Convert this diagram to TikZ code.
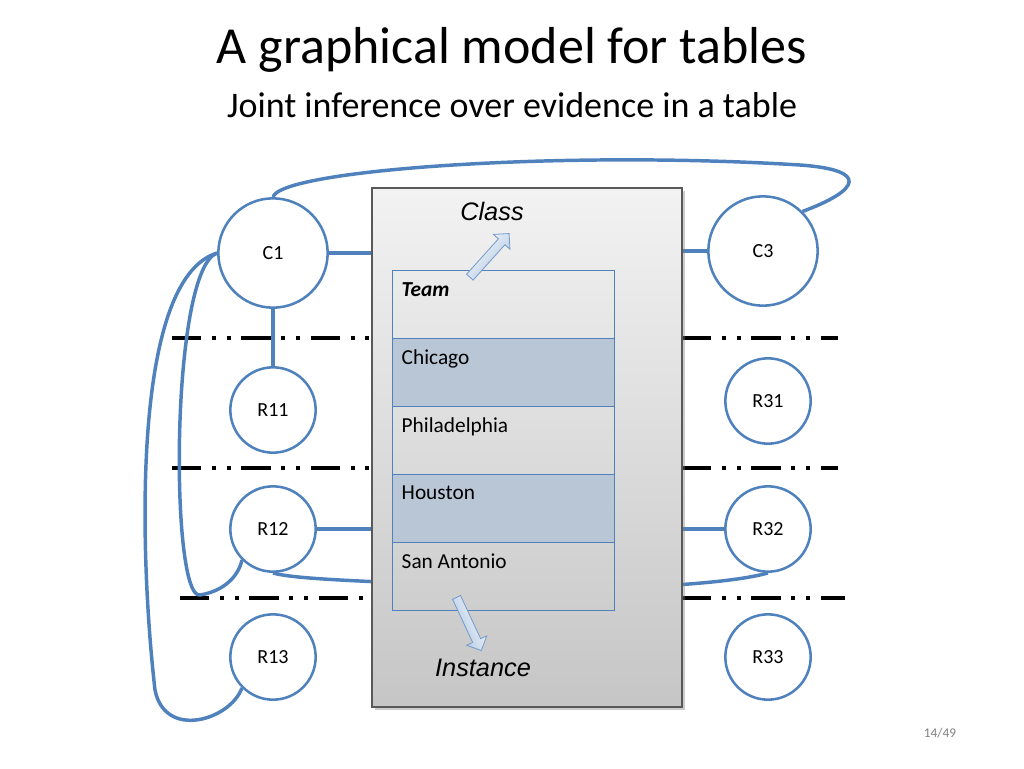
\documentclass[tikz,border=0pt]{standalone}
\usepackage{fontspec}
\setmainfont{Carlito}
\newfontfamily\arialf{Liberation Sans}
\usetikzlibrary{shapes.arrows,shadows}
\definecolor{lb}{HTML}{4F81BD}
\definecolor{cellb}{HTML}{B9C6D6}
\begin{document}
\begin{tikzpicture}[x=0.75pt,y=-0.75pt,
  conn/.style={draw=lb,line width=2.6pt},
  circ/.style={circle,draw=lb,line width=1.9pt,fill=white,font=\fontsize{15}{18}\selectfont},
  sep/.style={black,line width=3pt,dash pattern=on 22pt off 8pt on 3pt off 8pt on 3pt off 8pt},
  cell/.style={draw=lb,line width=1pt,minimum width=166.5pt,minimum height=51pt,anchor=north west,inner sep=0pt},
  celltxt/.style={anchor=north west,font=\fontsize{16}{19}\selectfont},
  barrow/.style={single arrow,draw=lb!80,line width=0.6pt,top color=white,bottom color=lb!50,minimum height=44pt,single arrow head extend=5pt,inner sep=3pt}]
\useasboundingbox (0,0) rectangle (1024,768);
\node at (512,50) {\fontsize{39}{46}\selectfont A graphical model for tables};
\node at (512,105) {\fontsize{27}{32}\selectfont Joint inference over evidence in a table};
\node at (940,733) {\color{gray}\fontsize{10}{12}\selectfont 14/49};
% separators
\foreach \y/\a/\b in {338/172/838,468/172/838,598/180/845}{
  \draw[sep] (\a,\y) -- (372,\y);
  \draw[sep] (682,\y) -- (\b,\y);}
% circles
\node[circ,minimum size=82pt] (C1) at (273,253) {C1};
\node[circ,minimum size=82pt] (C3) at (763,251) {C3};
\node[circ,minimum size=64pt] (R11) at (273,410) {R11};
\node[circ,minimum size=64pt] (R31) at (768,401) {R31};
\node[circ,minimum size=64pt] (R12) at (273,529) {R12};
\node[circ,minimum size=64pt] (R32) at (768,529) {R32};
\node[circ,minimum size=64pt] (R13) at (273,657) {R13};
\node[circ,minimum size=64pt] (R33) at (768,657) {R33};
\coordinate (bl1) at (380,253); \coordinate (br1) at (675,251);
\coordinate (bl2) at (380,529); \coordinate (br2) at (675,529);
\coordinate (bl3) at (380,582); \coordinate (br3) at (675,585);
\begin{scope}[on background layer/.style={}]
\draw[conn] (C1.east) -- (bl1);
\draw[conn] (C3.west) -- (br1);
\draw[conn] (C1.south) -- (R11.north);
\draw[conn] (R12.east) -- (bl2);
\draw[conn] (R32.west) -- (br2);
\draw[conn] (R12.south) .. controls (290,578) and (340,580) .. (bl3);
\draw[conn] (R32.south) .. controls (750,578) and (720,582) .. (br3);
\draw[conn] (C1.north) .. controls (280,170) and (560,150) .. (800,165)
   .. controls (870,170) and (860,190) .. (C3.north east);
\draw[conn] (C1.west) .. controls (170,270) and (170,600) .. (200,595)
   .. controls (230,590) and (240,570) .. (R12.south west);
\draw[conn] (C1.west) .. controls (130,280) and (140,560) .. (155,690)
   .. controls (165,740) and (230,720) .. (R13.south west);
\end{scope}
% big box
\shade[top color=gray!10,bottom color=gray!45,draw=gray!70!black,line width=1pt,
  drop shadow={opacity=0.4,shadow xshift=2pt,shadow yshift=-2pt}]
  (372,188) rectangle (682,707);
\node[cell] (t0) at (392,270) {};
\node[cell,fill=cellb] (t1) at (392,338) {};
\node[cell] (t2) at (392,406) {};
\node[cell,fill=cellb] (t3) at (392,474) {};
\node[cell] (t4) at (392,542) {};
\node[celltxt] at (397,278) {\bfseries\itshape Team};
\node[celltxt] at (397,345) {Chicago};
\node[celltxt] at (397,413) {Philadelphia};
\node[celltxt] at (397,481) {Houston};
\node[celltxt] at (397,549) {San Antonio};
\node at (492,211) {\arialf\itshape\fontsize{19}{22}\selectfont Class};
\node at (483,668) {\arialf\itshape\fontsize{19}{22}\selectfont Instance};
\node[barrow,rotate=48,shading angle=48] (ca) at (488,257) {};
\node[barrow,rotate=-65,shading angle=-65] (ia) at (468,622) {};
\end{tikzpicture}
\end{document}
